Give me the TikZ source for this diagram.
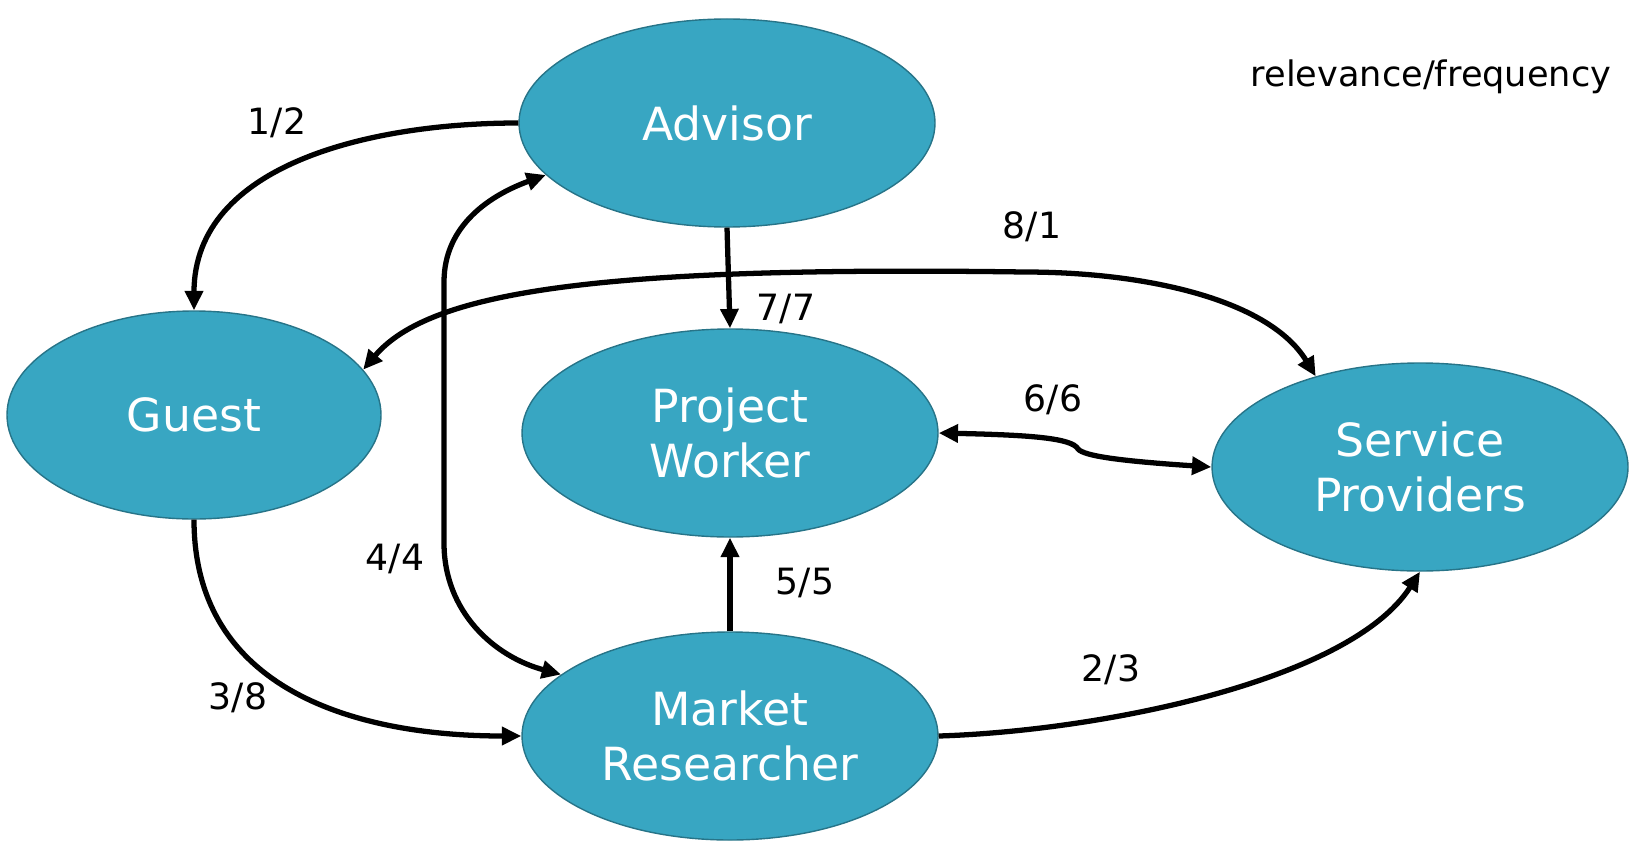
\documentclass[tikz,border=0pt]{standalone}
\usepackage{fontspec}
\setmainfont{DejaVu Sans}
\usetikzlibrary{arrows.meta,positioning,shapes.geometric}
\definecolor{roleblue}{HTML}{38A6C2}
\tikzset{
  role/.style={ellipse, fill=roleblue, draw=roleblue!70!black, line width=0.4pt,
    minimum width=4.16cm, minimum height=2.08cm, inner sep=0pt,
    text=white, align=center, font=\fontsize{13}{15.4}\selectfont},
  link/.style={line width=1.5pt, -{Triangle[length=5.5pt,width=5pt]}},
  twoway/.style={line width=1.5pt, {Triangle[length=5.5pt,width=5pt]}-{Triangle[length=5.5pt,width=5pt]}},
  tag/.style={font=\fontsize{10.3}{12}\selectfont}
}
\begin{document}
\begin{tikzpicture}
    \useasboundingbox (0,0) rectangle (16.38,8.51);

    % Roles
    \node[role] (advisor) at (7.27,7.28) {Advisor};
    \node[role, minimum width=3.74cm] (guest) at (1.94,4.36) {Guest};
    \node[role] (worker) at (7.30,4.18) {Project\\Worker};
    \node[role] (provider) at (14.20,3.84) {Service\\Providers};
    \node[role] (researcher) at (7.30,1.15) {Market\\Researcher};

    % Way points
    \coordinate (top81) at (10.24,5.79);
    \coordinate (up44) at (4.44,5.69);
    \coordinate (down44) at (4.44,3.08);
    \coordinate (bump66) at (10.78,4.02);

    % Connectors
    \draw[link] (advisor.west) to[out=180,in=90] (guest.north);
    \draw[link] (advisor.south) -- (worker.north);
    \draw[twoway] (guest.15) .. controls (4.3,5.6) and (6.0,5.85) .. (top81)
        .. controls (11.5,5.79) and (12.7,5.5) .. (provider.139);
    \draw[twoway] (advisor.196) to[out=200,in=90] (up44) -- (down44)
        to[out=-90,in=165] (researcher.160);
    \draw[twoway] (worker.east) .. controls (10.3,4.16) and (10.72,4.13) .. (bump66)
        .. controls (10.84,3.95) and (11.2,3.9) .. (provider.west);
    \draw[link] (researcher.north) -- (worker.south);
    \draw[link] (guest.south) to[out=-90,in=180,looseness=1.1] (researcher.west);
    \draw[link] (researcher.east) .. controls (11.0,1.2) and (13.5,1.7) .. (provider.south);

    % Labels
    \node[tag] (l12) at (2.77,7.28) {1/2};
    \node[tag] (l81) at (10.32,6.24) {8/1};
    \node[tag] (l77) at (7.86,5.42) {7/7};
    \node[tag] (l66) at (10.53,4.51) {6/6};
    \node[tag] (l44) at (3.95,2.92) {4/4};
    \node[tag] (l55) at (8.05,2.68) {5/5};
    \node[tag] (l38) at (2.38,1.53) {3/8};
    \node[tag] (l23) at (11.11,1.81) {2/3};
    \node[font=\fontsize{10}{12}\selectfont] (legend) at (14.31,7.74) {relevance/frequency};
\end{tikzpicture}
\end{document}
